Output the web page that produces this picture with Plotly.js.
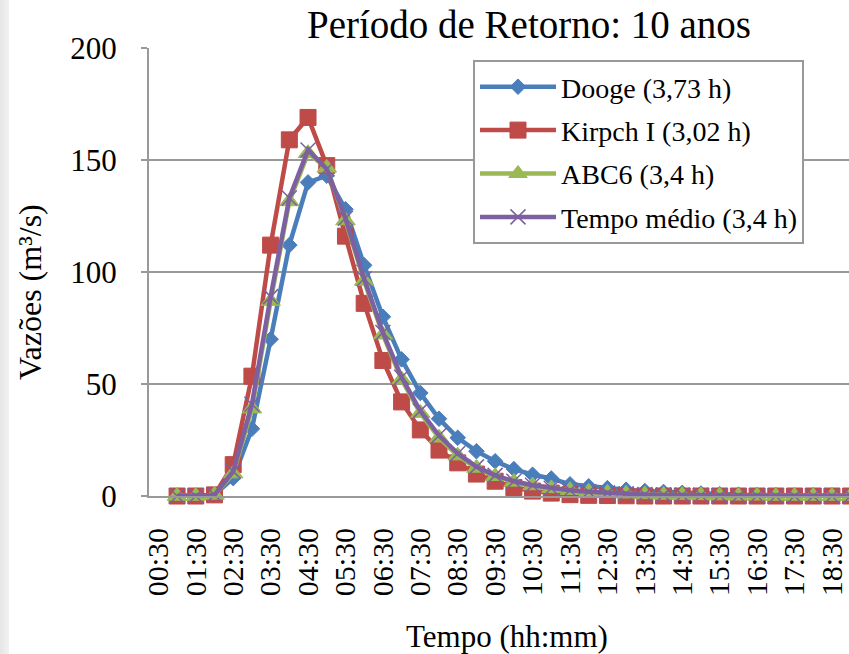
<!DOCTYPE html>
<html>
<head>
<meta charset="utf-8">
<script src="https://cdn.plot.ly/plotly-3.0.1.min.js"></script>
<style>
  html, body { margin: 0; padding: 0; overflow: hidden; background: #ffffff; width: 849px; height: 654px; }
  #chart { position: absolute; left: 0; top: 0; }
  #strip { position: absolute; left: 0; top: 0; width: 9px; height: 654px; background: linear-gradient(to right, #e6e6e6, #f2f2f2); }
</style>
</head>
<body>
<div id="chart"></div>
<div id="strip"></div>
<script>
const categories = ["00:30","01:00","01:30","02:00","02:30","03:00","03:30","04:00","04:30","05:00",
  "05:30","06:00","06:30","07:00","07:30","08:00","08:30","09:00","09:30","10:00",
  "10:30","11:00","11:30","12:00","12:30","13:00","13:30","14:00","14:30","15:00",
  "15:30","16:00","16:30","17:00","17:30","18:00","18:30","19:00"];

const tickLabels = ["00:30","01:30","02:30","03:30","04:30","05:30","06:30","07:30","08:30","09:30",
  "10:30","11:30","12:30","13:30","14:30","15:30","16:30","17:30","18:30"];

const dooge = [null, 0, 0, 0.5, 8, 30, 70, 112, 140, 143, 128, 103, 80, 61, 46, 34.5, 26, 20, 15.5, 12,
  9.5, 7.8, 5.2, 4.3, 3.5, 2.8, 2.2, 1.8, 1.4, 1.1, 0.8, 0.6, 0.5, 0.4, 0.3, 0.2, 0.2, 0.1];
const kirpch = [null, 0, 0, 0.5, 14, 53.5, 112, 159, 169, 147.5, 116, 86, 60.5, 42, 29.5, 20.5, 14.8, 9.8, 6.6, 3.8,
  2.2, 1.3, 0.6, 0.3, 0.2, 0.1, 0, 0, 0, 0, 0, 0, 0, 0, 0, 0, 0, 0];
const abc6 = [null, 0, 0, 0.5, 10, 39, 87, 131.5, 153, 146.5, 123, 96, 72, 52, 37, 26, 18, 12.5, 8.8, 6.3,
  4.7, 3.4, 2.6, 1.9, 1.4, 1, 0.7, 0.5, 0.4, 0.3, 0.2, 0.1, 0.1, 0, 0, 0, 0, 0];
const tempoMedio = [null, 0, 0, 0.5, 11, 41, 89, 133, 154.5, 146, 124, 97, 73, 53, 38, 27, 19, 13, 9.2, 6.6,
  4.8, 3.5, 2.6, 1.9, 1.4, 1, 0.7, 0.5, 0.4, 0.3, 0.2, 0.1, 0.1, 0, 0, 0, 0, 0];

const seriesNames = ["Dooge (3,73 h)", "Kirpch I (3,02 h)", "ABC6 (3,4 h)", "Tempo médio (3,4 h)"];

const FONT = "Liberation Serif, Times New Roman, serif";

function tr(name, y, color, marker, grp) {
  return {
    type: 'scatter', mode: 'lines+markers', name: name, x: categories, y: y,
    line: { color: color, width: 4.5 },
    marker: marker, cliponaxis: false, legendgroup: grp, connectgaps: false
  };
}

const data = [
  tr(seriesNames[0], dooge, '#4A7EBB', { symbol: 'diamond', size: 12, color: '#4A7EBB', line: { width: 1, color: '#4A7EBB' } }, 'a'),
  tr(seriesNames[1], kirpch, '#BE4B48', { symbol: 'square', size: 16, color: '#BE4B48', line: { width: 1, color: '#BE4B48' } }, 'b'),
  tr(seriesNames[2], abc6, '#98B954', { symbol: 'triangle-up', size: 17, color: '#98B954', line: { width: 1, color: '#98B954' } }, 'c'),
  tr(seriesNames[3], tempoMedio, '#7D60A0', { symbol: 'x-thin', size: 15, color: '#7D60A0', line: { width: 1.5, color: '#7D60A0' } }, 'd')
];

const W = 880, H = 654;
const L = 149, T = 48, B = 158, R = 20;
const pw = W - L - R, ph = H - T - B;

const layout = {
  width: W, height: H,
  margin: { l: L, r: R, t: T, b: B },
  paper_bgcolor: '#ffffff', plot_bgcolor: '#ffffff',
  font: { family: FONT, color: '#000000', size: 30 },
  showlegend: true,
  title: {
    text: 'Período de Retorno: 10 anos',
    font: { family: FONT, size: 39, color: '#000000' },
    xref: 'paper', x: (529 - L) / pw, xanchor: 'center',
    yref: 'container', y: 1 - 24 / H, yanchor: 'middle'
  },
  xaxis: {
    type: 'category', range: [-0.5, categories.length - 0.5],
    tickmode: 'array', tickvals: tickLabels, ticktext: tickLabels,
    tickangle: -90, tickfont: { family: FONT, size: 30, color: '#000000' },
    ticks: '', showgrid: false, zeroline: false,
    showline: true, linecolor: '#999999', linewidth: 2,
    ticklabelstandoff: 18, automargin: false, fixedrange: true
  },
  yaxis: {
    range: [0, 200], tickmode: 'array', tickvals: [0, 50, 100, 150, 200],
    tickfont: { family: FONT, size: 31, color: '#000000' },
    ticks: 'outside', ticklen: 6, tickcolor: '#999999', tickwidth: 2,
    showgrid: true, gridcolor: '#999999', gridwidth: 2,
    zeroline: false, showline: true, linecolor: '#999999', linewidth: 2,
    ticklabelstandoff: 18, automargin: false, fixedrange: true
  },
  legend: {
    x: (473 - L) / pw, xanchor: 'left', y: (496 - 60) / ph, yanchor: 'top',
    bgcolor: '#ffffff', bordercolor: '#999999', borderwidth: 2,
    font: { family: FONT, size: 28, color: '#000000' },
    traceorder: 'grouped', tracegroupgap: 4, itemwidth: 76
  },
  annotations: [
    {
      text: 'Vazões (m³/s)', xref: 'paper', yref: 'paper',
      x: (30 - L) / pw, y: (496 - 292) / ph, xanchor: 'center', yanchor: 'middle',
      textangle: -90, showarrow: false, font: { family: FONT, size: 32, color: '#000000' }
    },
    {
      text: 'Tempo (hh:mm)', xref: 'paper', yref: 'paper',
      x: (507 - L) / pw, y: (496 - 636) / ph, xanchor: 'center', yanchor: 'middle',
      showarrow: false, font: { family: FONT, size: 31, color: '#000000' }
    }
  ]
};

Plotly.newPlot('chart', data, layout, { displayModeBar: false, staticPlot: true });
</script>
</body>
</html>
